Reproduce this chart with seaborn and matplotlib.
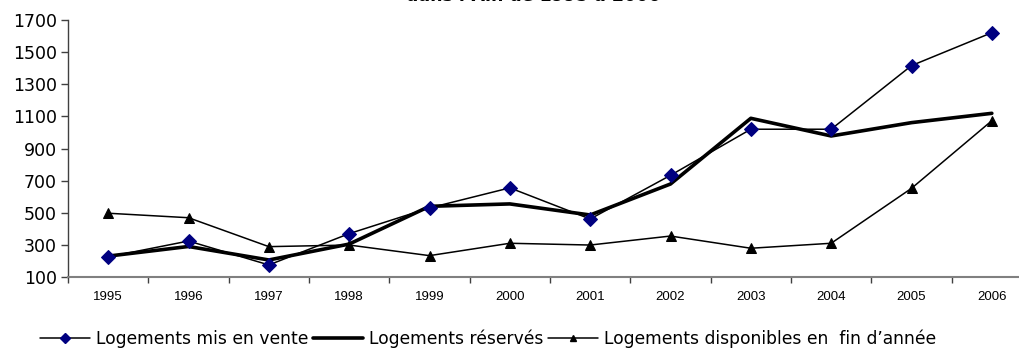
import matplotlib
matplotlib.use("Agg")
import matplotlib.pyplot as plt
from matplotlib.lines import Line2D
import numpy as np
import pandas as pd
import seaborn as sns

# Housing market in the Ain department, 1995-2006
annees = [1995, 1996, 1997, 1998, 1999, 2000, 2001, 2002, 2003, 2004, 2005, 2006]
mis_en_vente = [225, 324, 175, 370, 530, 655, 461, 733, 1020, 1020, 1416, 1621]
reserves = [230, 290, 206, 305, 540, 555, 486, 679, 1088, 978, 1061, 1119]
disponibles = [497, 469, 289, 299, 233, 310, 299, 355, 279, 310, 652, 1073]

lbl_vente = "Logements mis en vente"
lbl_reserves = "Logements réservés"
lbl_dispo = "Logements disponibles en  fin d\u2019année"

sns.set_theme(style="white")
plt.rcParams["font.family"] = ["DejaVu Sans"]
plt.rcParams["text.color"] = "black"
plt.rcParams["xtick.color"] = "black"
plt.rcParams["ytick.color"] = "black"
plt.rcParams["axes.labelcolor"] = "black"

W, H, DPI = 1019, 354, 100
fig = plt.figure(figsize=(W / DPI, H / DPI), dpi=DPI)
ax = fig.add_axes([68 / W, (H - 277) / H, (1032 - 68) / W, (277 - 20) / H])

df = pd.DataFrame({"annee": annees, "vente": mis_en_vente,
                   "reserves": reserves, "dispo": disponibles})

sns.lineplot(data=df, x="annee", y="vente", ax=ax, color="black", lw=1.1,
             marker="D", markersize=7, markerfacecolor="#000080",
             markeredgecolor="#000080", zorder=4)
sns.lineplot(data=df, x="annee", y="reserves", ax=ax, color="black", lw=2.6,
             zorder=3)
sns.lineplot(data=df, x="annee", y="dispo", ax=ax, color="black", lw=1.1,
             marker="^", markersize=6.5, markerfacecolor="black",
             markeredgecolor="black", zorder=3)

ax.set_xlim(annees[0] - 0.5, annees[-1] + 0.5)
ax.set_ylim(100, 1700)
ax.set_yticks(np.arange(100, 1701, 200))
ax.set_xticks(np.arange(annees[0] - 0.5, annees[-1] + 1, 1.0))
ax.set_xticklabels([])
ax.set_xticks(annees, minor=True)
ax.set_xticklabels([str(a) for a in annees], minor=True,
                   family="Liberation Sans", fontsize=9.5)
ax.tick_params(axis="x", which="minor", length=0, pad=10)
ax.tick_params(axis="x", which="major", direction="out", length=4,
               width=1, color="#404040", bottom=True)
ax.tick_params(axis="y", direction="out", length=5, width=1,
               color="#404040", left=True, labelsize=12.5, pad=3)
ax.set_xlabel("")
ax.set_ylabel("")

for side in ("top", "right"):
    ax.spines[side].set_visible(False)
ax.spines["left"].set_color("#404040")
ax.spines["left"].set_linewidth(1)
ax.spines["bottom"].set_color("#808080")
ax.spines["bottom"].set_linewidth(1.5)

handles = [
    Line2D([], [], color="black", lw=1.1, marker="D", markersize=5,
           markerfacecolor="#000080", markeredgecolor="#000080"),
    Line2D([], [], color="black", lw=2.6),
    Line2D([], [], color="black", lw=1.1, marker="^", markersize=4.5,
           markerfacecolor="black", markeredgecolor="black"),
]
fig.legend(handles, [lbl_vente, lbl_reserves, lbl_dispo], loc="center left",
           bbox_to_anchor=(40 / W, 1 - 339 / H), ncol=3, frameon=False,
           fontsize=12.3, handlelength=2.9, handletextpad=0.35,
           columnspacing=0.3, borderaxespad=0, borderpad=0)

fig.text(533 / W, 1 - 5 / H, "dans l\u2019Ain de 1995 à 2006", ha="center",
         va="bottom", fontsize=12.5, fontweight="bold")

fig.savefig("out.png", dpi=DPI, facecolor="white")
